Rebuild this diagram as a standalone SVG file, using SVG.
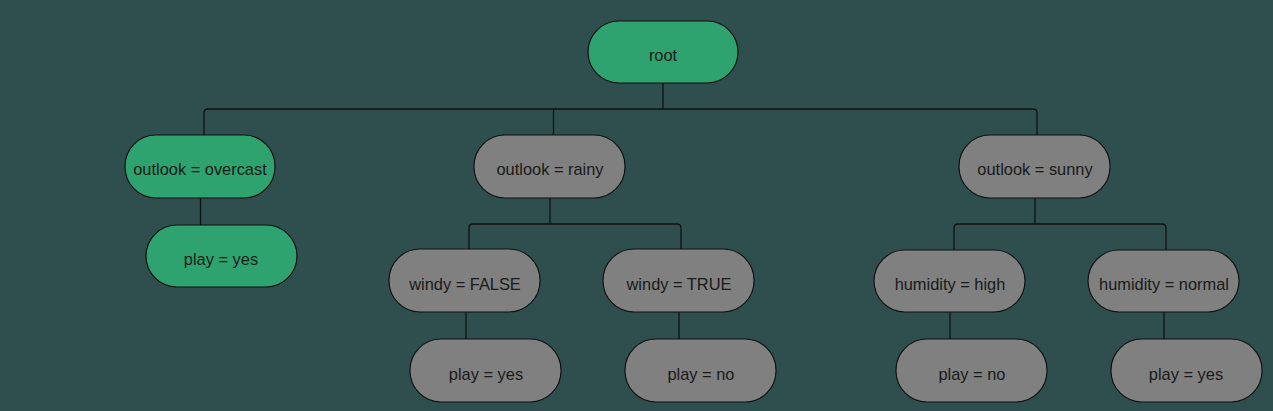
<svg xmlns="http://www.w3.org/2000/svg" width="1273" height="411" viewBox="0 0 1273 411">
<style>
.n{stroke:#111;stroke-width:1.2}
.g{fill:#2ea36f}
.y{fill:#808080}
.t{font-family:"Liberation Sans",Arial,sans-serif;font-size:16.4px;fill:#1a1a1a;text-anchor:middle}
.c{fill:none;stroke:#111;stroke-width:1.3}
</style>
<rect width="1273" height="411" fill="#2f4f4f"/>
<g id="connectors">
<path class="c" d="M663 83V109M208 109H1033Q1037 109 1037 113V135M204 135V113Q204 109 208 109M553.5 109V135"/>
<path class="c" d="M200.5 198V225"/>
<path class="c" d="M550 198V224M473 224H677Q681 224 681 228V249M469 249V228Q469 224 473 224"/>
<path class="c" d="M466 312V339M679 312V339"/>
<path class="c" d="M1035 198V224M958 224H1162Q1166 224 1166 228V250M954 250V228Q954 224 958 224"/>
<path class="c" d="M950 312V339M1164 312V339"/>
</g>
<g id="root"><rect class="n g" x="588" y="21" width="150" height="62" rx="31"/><text class="t" x="663" y="61">root</text></g>
<g id="overcast"><rect class="n g" x="125" y="135" width="150" height="63" rx="31"/><text class="t" x="200" y="175">outlook = overcast</text></g>
<g id="rainy"><rect class="n y" x="474" y="135" width="151" height="63" rx="31"/><text class="t" x="550" y="175">outlook = rainy</text></g>
<g id="sunny"><rect class="n y" x="959" y="135" width="151" height="63" rx="31"/><text class="t" x="1035" y="175">outlook = sunny</text></g>
<g id="overcast-yes"><rect class="n g" x="146" y="225" width="151" height="62" rx="31"/><text class="t" x="221" y="265">play = yes</text></g>
<g id="windy-false"><rect class="n y" x="389" y="249" width="151" height="63" rx="31"/><text class="t" x="465" y="290">windy = FALSE</text></g>
<g id="windy-true"><rect class="n y" x="603" y="249" width="151" height="63" rx="31"/><text class="t" x="679" y="290">windy = TRUE</text></g>
<g id="humidity-high"><rect class="n y" x="874" y="250" width="151" height="62" rx="31"/><text class="t" x="950" y="290">humidity = high</text></g>
<g id="humidity-normal"><rect class="n y" x="1088" y="250" width="151" height="62" rx="31"/><text class="t" x="1164" y="290">humidity = normal</text></g>
<g id="false-yes"><rect class="n y" x="410" y="339" width="151" height="63" rx="31"/><text class="t" x="486" y="380">play = yes</text></g>
<g id="true-no"><rect class="n y" x="625" y="339" width="151" height="63" rx="31"/><text class="t" x="701" y="380">play = no</text></g>
<g id="high-no"><rect class="n y" x="896" y="339" width="151" height="63" rx="31"/><text class="t" x="972" y="380">play = no</text></g>
<g id="normal-yes"><rect class="n y" x="1111" y="339" width="151" height="63" rx="31"/><text class="t" x="1186" y="380">play = yes</text></g>
</svg>
